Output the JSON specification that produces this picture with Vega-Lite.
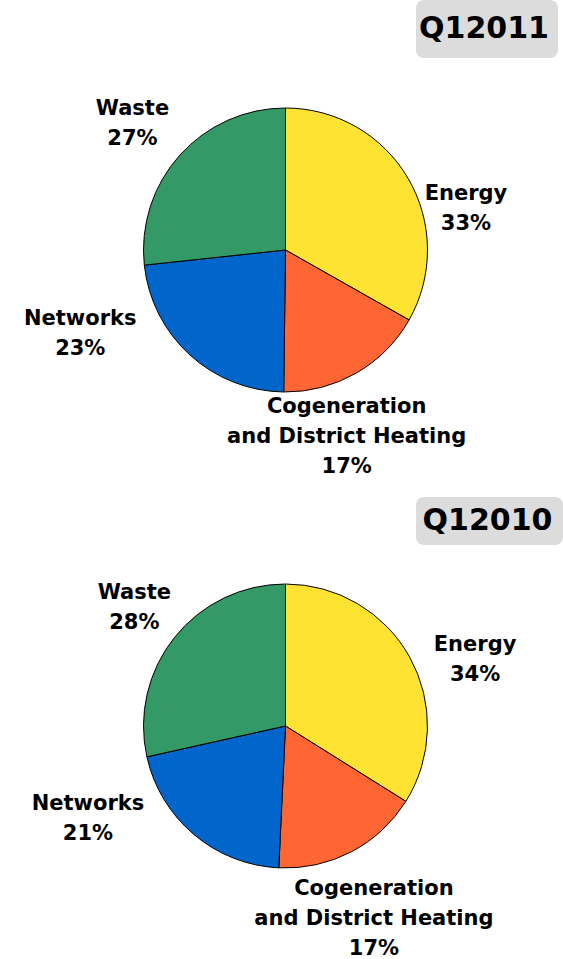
{
  "$schema": "https://vega.github.io/schema/vega-lite/v6.json",
  "padding": {"left": 8, "top": 0, "right": 0, "bottom": 0},
  "background": "white",
  "config": {"view": {"stroke": null}, "text": {"font": "DejaVu Sans"}},
  "datasets": {
    "shares": [
      {"period": "Q12011", "category": "Energy", "share": 33.2},
      {"period": "Q12011", "category": "Cogeneration and District Heating", "share": 17.0},
      {"period": "Q12011", "category": "Networks", "share": 23.1},
      {"period": "Q12011", "category": "Waste", "share": 26.7},
      {"period": "Q12010", "category": "Energy", "share": 33.8},
      {"period": "Q12010", "category": "Cogeneration and District Heating", "share": 16.8},
      {"period": "Q12010", "category": "Networks", "share": 20.7},
      {"period": "Q12010", "category": "Waste", "share": 28.4}
    ]
  },
  "spacing": 0,
  "vconcat": [
    {
      "spacing": 0,
      "hconcat": [
        {"width": 408, "height": 58, "data": {"values": [{"t": ""}]}, "mark": {"type": "text"}, "encoding": {"text": {"field": "t"}}},
        {"width": 142, "height": 58, "view": {"fill": "#dcdcdc", "cornerRadius": 8, "stroke": null},
         "data": {"values": [{"period": "Q12011"}]},
         "mark": {"type": "text", "fontSize": 30, "fontWeight": "bold", "color": "black", "dx": -3},
         "encoding": {"text": {"field": "period"}}}
      ]
    },
    {
      "width": 555, "height": 384,
      "data": {"name": "shares"},
      "transform": [
        {"filter": "datum.period == 'Q12011'"},
        {"calculate": "indexof(['Energy','Cogeneration and District Heating','Networks','Waste'], datum.category)", "as": "rank"},
        {"calculate": "replace(datum.category, 'Cogeneration ', 'Cogeneration\\n') + '\\n' + format(datum.share, '.0f') + '%'", "as": "label"}
      ],
      "encoding": {
        "theta": {"field": "share", "type": "quantitative", "stack": true},
        "order": {"field": "rank", "type": "quantitative"}
      },
      "layer": [
        {"mark": {"type": "arc", "outerRadius": 142, "stroke": "black", "strokeWidth": 1},
         "encoding": {"color": {"field": "category", "type": "nominal", "legend": null,
           "scale": {"domain": ["Energy", "Cogeneration and District Heating", "Networks", "Waste"], "range": ["#ffe333", "#ff6633", "#0066cc", "#339966"]}}}},
        {"mark": {"type": "text", "radius": 195, "fontSize": 21, "fontWeight": "bold", "lineBreak": "\n", "lineHeight": 30, "color": "black",
           "dx": {"expr": "datum.category == 'Energy' ? 12 : datum.category == 'Networks' ? -74 : datum.category == 'Waste' ? -8 : -36"},
           "dy": {"expr": "datum.category == 'Energy' ? 42 : datum.category == 'Networks' ? -75 : datum.category == 'Waste' ? -11 : -12"}},
         "encoding": {"text": {"field": "label"}}}
      ]
    },
    {"width": 1, "height": 19, "data": {"values": [{"t": ""}]}, "mark": {"type": "text"}, "encoding": {"text": {"field": "t"}}},
    {
      "spacing": 0,
      "hconcat": [
        {"width": 408, "height": 48, "data": {"values": [{"t": ""}]}, "mark": {"type": "text"}, "encoding": {"text": {"field": "t"}}},
        {"width": 147, "height": 48, "view": {"fill": "#dcdcdc", "cornerRadius": 8, "stroke": null},
         "data": {"values": [{"period": "Q12010"}]},
         "mark": {"type": "text", "fontSize": 30, "fontWeight": "bold", "color": "black", "dx": -2},
         "encoding": {"text": {"field": "period"}}}
      ]
    },
    {
      "width": 555, "height": 362,
      "data": {"name": "shares"},
      "transform": [
        {"filter": "datum.period == 'Q12010'"},
        {"calculate": "indexof(['Energy','Cogeneration and District Heating','Networks','Waste'], datum.category)", "as": "rank"},
        {"calculate": "replace(datum.category, 'Cogeneration ', 'Cogeneration\\n') + '\\n' + format(datum.share, '.0f') + '%'", "as": "label"}
      ],
      "encoding": {
        "theta": {"field": "share", "type": "quantitative", "stack": true},
        "order": {"field": "rank", "type": "quantitative"}
      },
      "layer": [
        {"mark": {"type": "arc", "outerRadius": 142, "stroke": "black", "strokeWidth": 1},
         "encoding": {"color": {"field": "category", "type": "nominal", "legend": null,
           "scale": {"domain": ["Energy", "Cogeneration and District Heating", "Networks", "Waste"], "range": ["#ffe333", "#ff6633", "#0066cc", "#339966"]}}}},
        {"mark": {"type": "text", "radius": 195, "fontSize": 21, "fontWeight": "bold", "lineBreak": "\n", "lineHeight": 30, "color": "black",
           "dx": {"expr": "datum.category == 'Energy' ? 19 : datum.category == 'Networks' ? -72 : datum.category == 'Waste' ? 1 : -2"},
           "dy": {"expr": "datum.category == 'Energy' ? 13 : datum.category == 'Networks' ? -71 : datum.category == 'Waste' ? -11 : -10"}},
         "encoding": {"text": {"field": "label"}}}
      ]
    }
  ]
}
